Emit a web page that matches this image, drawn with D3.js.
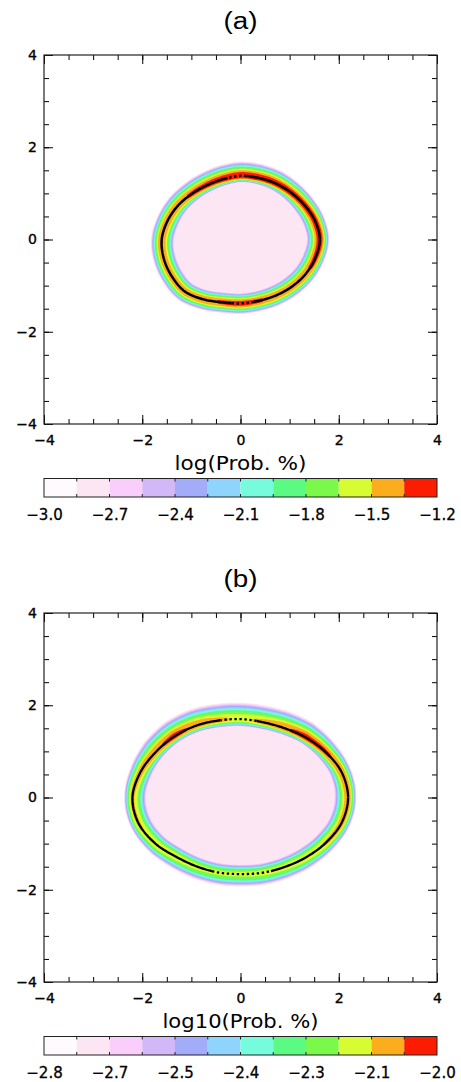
<!DOCTYPE html>
<html>
<head>
<meta charset="utf-8">
<script src="https://cdn.jsdelivr.net/npm/d3@7"></script>
<style>
  html, body { margin: 0; padding: 0; background: #fff; }
  svg { display: block; }
</style>
</head>
<body>
<svg id="chart" width="461" height="1082"></svg>
<script>
// ---- colour table (12 levels, low -> high) -------------------------------
const levelColors = ["#fffafd", "#fde6f3", "#f9cefa", "#d3b8f8", "#a3acf8", "#8fd4fc",
                     "#76fcdc", "#5bfa82", "#7bf94a", "#d8fc32", "#fcad1e", "#fc1c00"];

// ---- axis ticks --------------------------------------------------------------
const minorTicks = [-4, -3.5, -3, -2.5, -2, -1.5, -1, -0.5, 0, 0.5, 1, 1.5, 2, 2.5, 3, 3.5, 4];
const majorTicks = [-4, -2, 0, 2, 4];
const majorTickLabels = ["\u22124", "\u22122", "0", "2", "4"];

// ---- ridge of maximum probability, sampled every 15 degrees around the origin ----
const ringAngles = [0, 15, 30, 45, 60, 75, 90, 105, 120, 135, 150, 165,
                    180, 195, 210, 225, 240, 255, 270, 285, 300, 315, 330, 345];

// panel (a)
const ringAr    = [1.615, 1.57, 1.50, 1.445, 1.41, 1.385, 1.38, 1.355, 1.36, 1.40, 1.47, 1.54,
                   1.604, 1.615, 1.61, 1.598, 1.50, 1.41, 1.385, 1.38, 1.41, 1.46, 1.52, 1.575];
// log10 probability on the ridge
const ringApeak = [-1.30, -1.31, -1.31, -1.30, -1.28, -1.27, -1.27, -1.28, -1.31, -1.34, -1.37, -1.39,
                   -1.40, -1.41, -1.41, -1.40, -1.37, -1.34, -1.32, -1.34, -1.37, -1.38, -1.36, -1.33];
// distance (data units) at which the probability has fallen to the floor, outside / inside the ridge
const ringAout  = [0.20, 0.215, 0.24, 0.275, 0.31, 0.325, 0.325, 0.325, 0.31, 0.29, 0.265, 0.24,
                   0.23, 0.23, 0.235, 0.24, 0.24, 0.24, 0.24, 0.24, 0.235, 0.22, 0.21, 0.20];
const ringAin   = [0.29, 0.28, 0.25, 0.21, 0.175, 0.155, 0.15, 0.155, 0.17, 0.195, 0.23, 0.265,
                   0.275, 0.275, 0.265, 0.255, 0.24, 0.24, 0.24, 0.24, 0.255, 0.265, 0.275, 0.29];
const ringAdotted = [[84, 100], [262, 280]];   // angle ranges where the ridge line is broken
const coreA = 0.035;       // half-width of the ridge plateau
const interiorA = -2.80;   // level inside the ring
const rangeA = [-3.0, -1.2];
const cbarLabelsA = ["\u22123.0", "\u22122.7", "\u22122.4", "\u22122.1", "\u22121.8", "\u22121.5", "\u22121.2"];

// panel (b)
const ringBr    = [2.19, 2.13, 1.99, 1.855, 1.745, 1.694, 1.70, 1.728, 1.80, 1.886, 1.985, 2.11,
                   2.20, 2.15, 2.00, 1.83, 1.737, 1.685, 1.66, 1.69, 1.75, 1.853, 1.99, 2.13];
const ringBpeak = [-2.10, -2.08, -2.06, -2.045, -2.075, -2.12, -2.15, -2.12, -2.08, -2.05, -2.075, -2.11,
                   -2.13, -2.13, -2.14, -2.16, -2.18, -2.19, -2.19, -2.18, -2.17, -2.15, -2.13, -2.11];
const ringBout  = [0.175, 0.21, 0.285, 0.37, 0.395, 0.385, 0.375, 0.385, 0.395, 0.385, 0.34, 0.24,
                   0.175, 0.19, 0.23, 0.275, 0.285, 0.285, 0.285, 0.285, 0.275, 0.255, 0.22, 0.19];
const ringBin   = [0.31, 0.265, 0.21, 0.165, 0.16, 0.17, 0.175, 0.17, 0.16, 0.165, 0.195, 0.265,
                   0.31, 0.30, 0.265, 0.24, 0.23, 0.23, 0.23, 0.23, 0.24, 0.255, 0.275, 0.30];
const ringBdotted = [[78, 103], [250, 290]];
const coreB = 0.03;
const interiorB = -2.70;
const rangeB = [-2.8, -2.0];
const cbarLabelsB = ["\u22122.8", "\u22122.7", "\u22122.5", "\u22122.4", "\u22122.3", "\u22122.1", "\u22122.0"];

// ---- layout ------------------------------------------------------------------
const svg = d3.select("#chart");
const left = 44, right = 437, plotH = 369;
const profileExp = 0.6;    // shape of the fall-off away from the ridge

const panels = [
  { top: 55,  title: "(a)", xlabel: "log(Prob. %)",   xlabelW: 132, lineW: 2.5,
    r: ringAr, peak: ringApeak, so: ringAout, si: ringAin, core: coreA, dotted: ringAdotted,
    interior: interiorA, range: rangeA, cbarLabels: cbarLabelsA },
  { top: 613, title: "(b)", xlabel: "log10(Prob. %)", xlabelW: 156, lineW: 2.3,
    r: ringBr, peak: ringBpeak, so: ringBout, si: ringBin, core: coreB, dotted: ringBdotted,
    interior: interiorB, range: rangeB, cbarLabels: cbarLabelsB }
];

const ridgePoints = p => ringAngles.map((a, i) => {
  const t = a * Math.PI / 180;
  return [p.r[i] * Math.cos(t), p.r[i] * Math.sin(t)];
});

// Closed uniform Catmull-Rom sampling of the ridge, carrying the ridge attributes along
function sampleRidge(p, per) {
  const pts = ridgePoints(p), n = pts.length, out = [];
  for (let i = 0; i < n; i++) {
    const i0 = (i - 1 + n) % n, i2 = (i + 1) % n, i3 = (i + 2) % n;
    for (let s = 0; s < per; s++) {
      const t = s / per, t2 = t * t, t3 = t2 * t;
      const cr = (a, b, c, d) => 0.5 * (2 * b + (-a + c) * t + (2 * a - 5 * b + 4 * c - d) * t2 + (-a + 3 * b - 3 * c + d) * t3);
      const lin = arr => arr[i] + (arr[i2] - arr[i]) * t;
      out.push({
        x: cr(pts[i0][0], pts[i][0], pts[i2][0], pts[i3][0]),
        y: cr(pts[i0][1], pts[i][1], pts[i2][1], pts[i3][1]),
        peak: lin(p.peak), so: lin(p.so), si: lin(p.si)
      });
    }
  }
  // outward unit normals (points run counter-clockwise)
  const m = out.length;
  out.forEach((a, j) => {
    const pv = out[(j - 1 + m) % m], nx = out[(j + 1) % m];
    const tx = nx.x - pv.x, ty = nx.y - pv.y, L = Math.hypot(tx, ty) || 1;
    a.nx = ty / L; a.ny = -tx / L;
    a.ang = (Math.atan2(a.y, a.x) * 180 / Math.PI + 360) % 360;
  });
  return out;
}

function drawPanel(p) {
  const top = p.top, bottom = top + plotH;
  const x = d3.scaleLinear().domain([-4, 4]).range([left, right]);
  const y = d3.scaleLinear().domain([-4, 4]).range([bottom, top]);
  const g = svg.append("g");

  // title
  g.append("text")
    .attr("x", (left + right) / 2).attr("y", top - 26.5)
    .attr("text-anchor", "middle")
    .attr("textLength", 34).attr("lengthAdjust", "spacingAndGlyphs")
    .style("font-family", "'Liberation Sans', Arial, sans-serif")
    .style("font-size", "23px")
    .text(p.title);

  // ---- probability field: filled level bands around the ridge ----
  const nLev = levelColors.length;
  const step = (p.range[1] - p.range[0]) / nLev;
  const thresholds = d3.range(nLev).map(k => p.range[0] + k * step);
  const floor = p.range[0];
  const ridge = sampleRidge(p, 12);
  const line = d3.line().x(d => x(d[0])).y(d => y(d[1])).curve(d3.curveLinearClosed);

  const field = g.append("g");
  for (let k = 1; k < nLev; k++) {
    const t = thresholds[k];
    const dist = (r, spread) => r.peak <= t ? 0
      : p.core + (spread - p.core) * Math.pow((r.peak - t) / (r.peak - floor), profileExp);
    const outer = ridge.map(r => { const d = dist(r, r.so); return [r.x + r.nx * d, r.y + r.ny * d]; });
    let dPath = line(outer);
    if (t > p.interior) {
      const inner = ridge.map(r => { const d = dist(r, r.si); return [r.x - r.nx * d, r.y - r.ny * d]; });
      dPath += line(inner);
    }
    field.append("path")
      .attr("d", dPath)
      .attr("fill", levelColors[k])
      .attr("fill-rule", "evenodd");
  }

  // ridge line: solid, broken into dots where the ridge is flattest
  const isDot = a => p.dotted.some(([a0, a1]) => a >= a0 && a <= a1);
  const runs = [];
  ridge.forEach((a, i) => {
    const b = ridge[(i + 1) % ridge.length], dot = isDot(a.ang), last = runs[runs.length - 1];
    if (last && last.dot === dot) last.pts.push(b);
    else runs.push({ dot, pts: [a, b] });
  });
  const open = d3.line().x(d => x(d.x)).y(d => y(d.y));
  g.append("g").selectAll("path")
    .data(runs)
    .join("path")
    .attr("d", d => open(d.pts))
    .attr("fill", "none")
    .attr("stroke", "#000")
    .attr("stroke-width", p.lineW)
    .attr("stroke-linejoin", "round")
    .attr("stroke-dasharray", d => d.dot ? "2.4 2.6" : null);

  // ---- axes ----
  const tickFont = sel => sel.selectAll("text")
    .style("font-family", "'DejaVu Sans', sans-serif")
    .style("font-size", "14px")
    .style("fill", "#000")
    .style("stroke", "#000").style("stroke-width", "0.35px");
  const clean = sel => { sel.select(".domain").remove(); sel.selectAll("line").attr("stroke", "#000"); };
  const lab = d => majorTickLabels[majorTicks.indexOf(d)];

  g.append("g").attr("transform", `translate(0,${bottom})`)
    .call(d3.axisBottom(x).tickValues(minorTicks).tickSize(-5).tickFormat("")).call(clean);
  g.append("g").attr("transform", `translate(0,${bottom})`)
    .call(d3.axisBottom(x).tickValues(majorTicks).tickSize(-9).tickPadding(11).tickFormat(lab))
    .call(clean).call(tickFont);
  g.append("g").attr("transform", `translate(0,${top})`)
    .call(d3.axisTop(x).tickValues(minorTicks).tickSize(-5).tickFormat("")).call(clean);
  g.append("g").attr("transform", `translate(0,${top})`)
    .call(d3.axisTop(x).tickValues(majorTicks).tickSize(-9).tickFormat("")).call(clean);

  g.append("g").attr("transform", `translate(${left},0)`)
    .call(d3.axisLeft(y).tickValues(minorTicks).tickSize(-5).tickFormat("")).call(clean);
  g.append("g").attr("transform", `translate(${left},0)`)
    .call(d3.axisLeft(y).tickValues(majorTicks).tickSize(-9).tickPadding(7).tickFormat(lab))
    .call(clean).call(tickFont);
  g.append("g").attr("transform", `translate(${right},0)`)
    .call(d3.axisRight(y).tickValues(minorTicks).tickSize(-5).tickFormat("")).call(clean);
  g.append("g").attr("transform", `translate(${right},0)`)
    .call(d3.axisRight(y).tickValues(majorTicks).tickSize(-9).tickFormat("")).call(clean);

  g.append("rect")
    .attr("x", left).attr("y", top).attr("width", right - left).attr("height", plotH)
    .attr("fill", "none").attr("stroke", "#222").attr("stroke-width", 1.2);

  // x label
  g.append("text")
    .attr("x", (left + right) / 2).attr("y", top + 415)
    .attr("text-anchor", "middle")
    .attr("textLength", p.xlabelW).attr("lengthAdjust", "spacingAndGlyphs")
    .style("font-family", "'DejaVu Sans', sans-serif")
    .style("font-size", "19px")
    .text(p.xlabel);

  // ---- colour bar ----
  const cbTop = top + 423.5, cbH = 18.5;
  const cb = d3.scaleLinear().domain(p.range).range([left, right]);
  const cbg = g.append("g");
  cbg.selectAll("rect.cell")
    .data(thresholds)
    .join("rect")
    .attr("class", "cell")
    .attr("x", d => cb(d)).attr("y", cbTop)
    .attr("width", d => cb(d + step) - cb(d)).attr("height", cbH)
    .attr("fill", (d, i) => levelColors[i]);
  const divs = cbg.selectAll("g.div").data(thresholds.slice(1)).join("g").attr("class", "div");
  divs.append("line").attr("x1", d => cb(d)).attr("x2", d => cb(d)).attr("y1", cbTop).attr("y2", cbTop + 3);
  divs.append("line").attr("x1", d => cb(d)).attr("x2", d => cb(d)).attr("y1", cbTop + cbH - 3).attr("y2", cbTop + cbH);
  divs.selectAll("line").attr("stroke", "#222").attr("stroke-width", 1);
  cbg.append("rect")
    .attr("x", left).attr("y", cbTop).attr("width", right - left).attr("height", cbH)
    .attr("fill", "none").attr("stroke", "#222").attr("stroke-width", 1);

  const cbTicks = d3.range(0, nLev + 1, 2).map(i => p.range[0] + i * step);
  g.append("g").attr("transform", `translate(0,${cbTop + cbH})`)
    .call(d3.axisBottom(cb).tickValues(cbTicks).tickSize(0).tickPadding(12)
      .tickFormat((d, i) => p.cbarLabels[i]))
    .call(s => s.select(".domain").remove())
    .call(s => s.selectAll("text")
      .style("font-family", "'DejaVu Sans', sans-serif")
      .style("font-size", "15px")
      .style("fill", "#000")
      .style("stroke", "#000").style("stroke-width", "0.3px"));
}

panels.forEach(drawPanel);
</script>
</body>
</html>
